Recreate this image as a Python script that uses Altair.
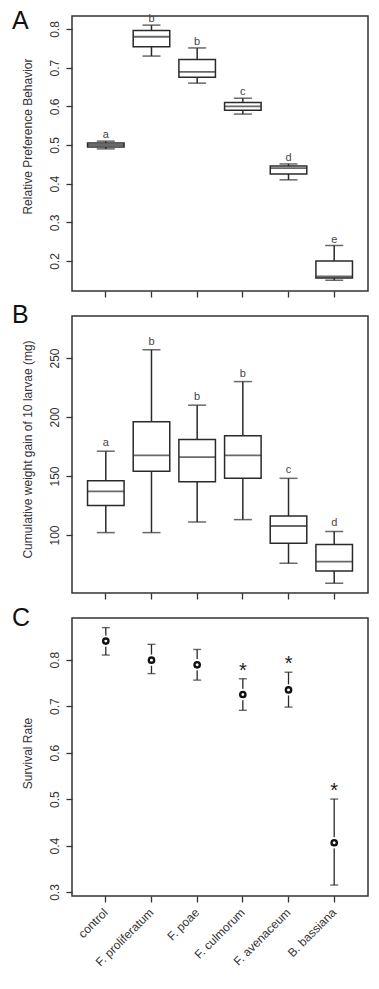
import altair as alt
import pandas as pd

treatments = ["control", "F. proliferatum", "F. poae", "F. culmorum", "F. avenaceum", "B. bassiana"]

# Panel A - relative preference behaviour (box plot statistics)
pref_lower = [0.490, 0.730, 0.660, 0.580, 0.410, 0.150]
pref_q1 = [0.495, 0.754, 0.675, 0.590, 0.425, 0.156]
pref_median = [0.500, 0.780, 0.689, 0.600, 0.440, 0.160]
pref_q3 = [0.505, 0.796, 0.721, 0.610, 0.446, 0.200]
pref_upper = [0.510, 0.810, 0.751, 0.621, 0.451, 0.240]
pref_letters = ["a", "b", "b", "c", "d", "e"]
pref_ticks = [0.2, 0.3, 0.4, 0.5, 0.6, 0.7, 0.8]

# Panel B - cumulative weight gain (box plot statistics)
gain_lower = [102, 102, 111, 113, 76, 59]
gain_q1 = [125, 154, 145, 148, 93, 69.5]
gain_median = [137, 167.5, 166, 167.5, 107.6, 77.4]
gain_q3 = [146, 196, 181, 184, 116, 92]
gain_upper = [171, 257, 210, 230, 148, 103]
gain_letters = ["a", "b", "b", "b", "c", "d"]
gain_ticks = [100, 150, 200, 250]

# Panel C - survival rate with error bars
surv_mean = [0.840, 0.799, 0.789, 0.725, 0.735, 0.406]
surv_lower = [0.810, 0.770, 0.756, 0.691, 0.698, 0.315]
surv_upper = [0.869, 0.833, 0.822, 0.759, 0.773, 0.500]
surv_sig = ["", "", "", "*", "*", "*"]
surv_ticks = [0.3, 0.4, 0.5, 0.6, 0.7, 0.8]

FONT = "Liberation Sans"
INK = "#2a2a2a"
W = 296

xscale = alt.Scale(type="band", domain=treatments, paddingInner=0.2, paddingOuter=0.34)
x_nolabels = alt.Axis(labels=False, title=None, ticks=True, tickSize=6, domain=False, grid=False)
x_labels = alt.Axis(title=None, ticks=True, tickSize=6, domain=False, grid=False,
                    labelAngle=-45, labelAlign="right", labelBaseline="middle",
                    labelPadding=8)


def yaxis(title, values, fmt, ty):
    return alt.Axis(title=title, values=values, format=fmt, grid=False, domain=False,
                    tickSize=6, labelAngle=270, labelAlign="center", labelBaseline="bottom",
                    labelPadding=5, titleX=-38, titleY=ty, titleAlign="center",
                    titleBaseline="bottom")


def panel_letter(letter, ybase):
    return alt.Chart(pd.DataFrame({"t": [letter]})).mark_text(
        align="left", baseline="alphabetic", fontSize=25, font=FONT, color="#111"
    ).encode(text="t:N", x=alt.value(-60), y=alt.value(ybase))


def box_panel(lower, q1, med, q3, upper, letters, dom, ticks, fmt, title, ty, letter, lby, dy, h):
    df = pd.DataFrame({"t": treatments, "lo": lower, "q1": q1, "med": med,
                       "q3": q3, "hi": upper, "lab": letters})
    ys = alt.Scale(domain=dom, nice=False, zero=False)
    base = alt.Chart(df).encode(x=alt.X("t:N", scale=xscale, axis=x_nolabels, sort=treatments))
    whisk = base.mark_rule(color=INK, strokeWidth=1.5).encode(
        y=alt.Y("lo:Q", scale=ys, axis=yaxis(title, ticks, fmt, ty)), y2="hi:Q")
    box = base.mark_bar(fill="white", stroke=INK, strokeWidth=1.5).encode(y="q1:Q", y2="q3:Q")
    medt = base.mark_tick(color=INK, thickness=1.8, size=36.5).encode(y="med:Q")
    caplo = base.mark_tick(color=INK, thickness=1.5, size=18).encode(y="lo:Q")
    caphi = base.mark_tick(color=INK, thickness=1.5, size=18).encode(y="hi:Q")
    lab = base.mark_text(fontSize=11, font=FONT, color="#444", baseline="alphabetic", dy=dy).encode(
        y="hi:Q", text="lab:N")
    return alt.layer(whisk, box, medt, caplo, caphi, lab, panel_letter(letter, lby)).properties(
        width=W, height=h)


chartA = box_panel(pref_lower, pref_q1, pref_median, pref_q3, pref_upper, pref_letters,
                   [0.1225, 0.8336], pref_ticks, ".1f", "Relative Preference Behavior", 120, "A", 13, -3, 275)
chartB = box_panel(gain_lower, gain_q1, gain_median, gain_q3, gain_upper, gain_letters,
                   [50.8, 285.6], gain_ticks, "d", "Cumulative weight gain of 10 larvae (mg)", 133, "B", 7, -5, 277)

dfc = pd.DataFrame({"t": treatments, "m": surv_mean, "lo": surv_lower, "hi": surv_upper, "sig": surv_sig})
ysc = alt.Scale(domain=[0.2914, 0.8897], nice=False, zero=False)
basec = alt.Chart(dfc).encode(x=alt.X("t:N", scale=xscale, axis=x_labels, sort=treatments))
bar_c = basec.mark_rule(color=INK, strokeWidth=1.3).encode(
    y=alt.Y("lo:Q", scale=ysc, axis=yaxis("Survival Rate", surv_ticks, ".1f", 135)), y2="hi:Q")
caplo_c = basec.mark_tick(color=INK, thickness=1.4, size=8).encode(y="lo:Q")
caphi_c = basec.mark_tick(color=INK, thickness=1.4, size=8).encode(y="hi:Q")
gap_c = basec.mark_point(shape="circle", filled=True, color="white", opacity=1, size=130).encode(y="m:Q")
pt_c = basec.mark_point(shape="circle", filled=False, color="#111", strokeWidth=2.4, size=28, opacity=1).encode(y="m:Q")
star_c = basec.mark_text(fontSize=20, font=FONT, color="#222", baseline="alphabetic", dy=-2).encode(
    y="hi:Q", text="sig:N")
chartC = alt.layer(bar_c, caplo_c, caphi_c, gap_c, pt_c, star_c, panel_letter("C", 8)).properties(
    width=W, height=278)

chart = alt.vconcat(chartA, chartB, chartC, spacing=25, bounds="flush").properties(
    padding={"left": 3, "top": 0, "right": 0, "bottom": 0}
).configure_view(stroke="#333", strokeWidth=1.5).configure_axis(
    labelFont=FONT, titleFont=FONT, labelFontSize=12, titleFontSize=12,
    titleFontWeight="normal", labelColor="#333", titleColor="#333",
    tickColor="#333", tickWidth=1.3
)

chart.save("out.html", embed_options={"renderer": "svg", "actions": False})
